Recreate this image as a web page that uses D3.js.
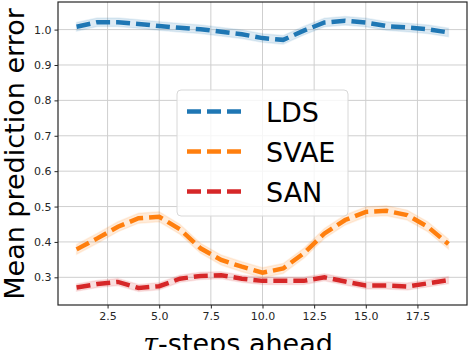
<!DOCTYPE html>
<html>
<head>
<meta charset="utf-8">
<script src="https://cdn.jsdelivr.net/npm/d3@7"></script>
<style>
  body { margin: 0; background: #fff; }
  svg { display: block; font-family: "DejaVu Sans", sans-serif; }
</style>
</head>
<body>
<svg id="chart" width="468" height="350"></svg>
<script>
// values, tau = 1..19
var steps = d3.range(1, 20);
var ldsValues = [1.008, 1.021, 1.021, 1.016, 1.010, 1.005, 1.001, 0.994, 0.987, 0.976,
                 0.971, 0.997, 1.020, 1.025, 1.020, 1.010, 1.006, 1.001, 0.992];
var svaeValues = [0.379, 0.410, 0.443, 0.467, 0.471, 0.436, 0.382, 0.349, 0.330, 0.313,
                  0.325, 0.368, 0.424, 0.462, 0.485, 0.488, 0.476, 0.443, 0.394];
var sanValues = [0.271, 0.281, 0.287, 0.270, 0.275, 0.296, 0.304, 0.306, 0.296, 0.290,
                 0.290, 0.290, 0.300, 0.288, 0.277, 0.277, 0.274, 0.283, 0.292];
var seriesNames = ["LDS", "SVAE", "SAN"];
var seriesSpread = [0.012, 0.014, 0.010];
var xTicks = [2.5, 5.0, 7.5, 10.0, 12.5, 15.0, 17.5];
var yTicks = [0.3, 0.4, 0.5, 0.6, 0.7, 0.8, 0.9, 1.0];

var colors = ["#1f77b4", "#ff7f0e", "#d62728"];
var allValues = [ldsValues, svaeValues, sanValues];

var svg = d3.select("#chart");

// plot box (pixels)
var plotLeft = 58, plotRight = 467, plotTop = 2, plotBottom = 305;

var x = d3.scaleLinear().domain([0.1, 19.9]).range([plotLeft, plotRight]);
var y = d3.scaleLinear().domain([0.2218, 1.078]).range([plotBottom, plotTop]);

// grid
svg.append("g")
    .selectAll("line")
    .data(xTicks)
    .join("line")
    .attr("x1", d => x(d)).attr("x2", d => x(d))
    .attr("y1", plotTop).attr("y2", plotBottom)
    .attr("stroke", "#cfcfcf").attr("stroke-width", 1);

svg.append("g")
    .selectAll("line")
    .data(yTicks)
    .join("line")
    .attr("x1", plotLeft).attr("x2", plotRight)
    .attr("y1", d => y(d)).attr("y2", d => y(d))
    .attr("stroke", "#cfcfcf").attr("stroke-width", 1);

// axes, short outward ticks
var xAxis = svg.append("g")
    .attr("transform", "translate(0," + plotBottom + ")")
    .call(d3.axisBottom(x).tickValues(xTicks).tickFormat(d3.format(".1f")).tickSize(3.5).tickPadding(4));
var yAxis = svg.append("g")
    .attr("transform", "translate(" + plotLeft + ",0)")
    .call(d3.axisLeft(y).tickValues(yTicks).tickFormat(d3.format(".1f")).tickSize(3.5).tickPadding(3));
[xAxis, yAxis].forEach(function (a) {
    a.select(".domain").remove();
    a.selectAll("line").attr("stroke", "#262626").attr("stroke-width", 1);
    a.selectAll("text")
        .attr("font-family", "DejaVu Sans")
        .attr("font-size", 11)
        .attr("fill", "#262626");
});

// bands and lines
var band = d3.area()
    .x((d, i) => x(steps[i]))
    .y0(d => y(d.v - d.s))
    .y1(d => y(d.v + d.s));

var line = d3.line()
    .x((d, i) => x(steps[i]))
    .y(d => y(d));

allValues.forEach(function (vals, k) {
    svg.append("path")
        .datum(vals.map(v => ({ v: v, s: seriesSpread[k] })))
        .attr("d", band)
        .attr("fill", colors[k])
        .attr("fill-opacity", 0.15)
        .attr("stroke", colors[k])
        .attr("stroke-opacity", 0.1)
        .attr("stroke-width", 1.5);
});

allValues.forEach(function (vals, k) {
    svg.append("path")
        .datum(vals)
        .attr("d", line)
        .attr("fill", "none")
        .attr("stroke", colors[k])
        .attr("stroke-width", 4.5)
        .attr("stroke-dasharray", "14,6");
});

// frame
svg.append("rect")
    .attr("x", plotLeft).attr("y", plotTop)
    .attr("width", plotRight - plotLeft).attr("height", plotBottom - plotTop)
    .attr("fill", "none")
    .attr("stroke", "#262626")
    .attr("stroke-width", 1.2);

// legend
var legend = svg.append("g");
legend.append("rect")
    .attr("x", 177).attr("y", 90)
    .attr("width", 171).attr("height", 126)
    .attr("rx", 4)
    .attr("fill", "#fff").attr("fill-opacity", 0.8)
    .attr("stroke", "#d8d8d8");

seriesNames.forEach(function (name, k) {
    var cy = 111.5 + k * 40;
    legend.append("line")
        .attr("x1", 187).attr("x2", 242)
        .attr("y1", cy).attr("y2", cy)
        .attr("stroke", colors[k])
        .attr("stroke-width", 4.5)
        .attr("stroke-dasharray", "14,6");
    legend.append("text")
        .attr("x", 266).attr("y", cy + 10)
        .attr("font-size", 27)
        .attr("fill", "#000")
        .text(name);
});

// axis labels
svg.append("text")
    .attr("transform", "translate(24,154) rotate(-90)")
    .attr("text-anchor", "middle")
    .attr("font-size", 27)
    .attr("fill", "#000")
    .text("Mean prediction error");

var xl = svg.append("text")
    .attr("x", 238).attr("y", 353)
    .attr("text-anchor", "middle")
    .attr("font-size", 27)
    .attr("fill", "#000");
xl.append("tspan")
    .attr("font-family", "DejaVu Serif")
    .attr("font-style", "italic")
    .text("τ");
xl.append("tspan").text("-steps ahead");
</script>
</body>
</html>
